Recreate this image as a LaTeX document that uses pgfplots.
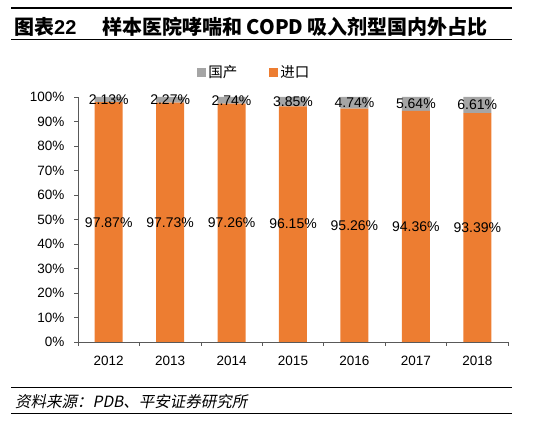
\documentclass[border=0pt]{standalone}
\usepackage{pgfplots}
\pgfplotsset{compat=1.18}
\usepackage{fontspec}
\setmainfont{Liberation Sans}
\newfontfamily\cjk{Noto Sans CJK SC}[AutoFakeSlant=0.2]
\definecolor{jk}{HTML}{ED7D31}
\definecolor{gc}{HTML}{A5A5A5}
\definecolor{axgray}{HTML}{595959}

% shared geometry of the plot area (in pt, picture is 554 x 425)
\pgfplotsset{
  refaxis/.style={
    at={(78pt,83pt)}, anchor=south west,
    scale only axis, width=430pt, height=245pt,
    xmin=-0.5, xmax=6.5, ymin=0, ymax=100,
  },
}

\begin{document}
\begin{tikzpicture}[x=1pt,y=1pt]
\useasboundingbox (0,0) rectangle (554,425);

% header
\draw[line width=1.4pt] (11,417) -- (512,417);
\node[anchor=west, inner sep=0pt, font=\bfseries\fontsize{20}{20}\selectfont] at (14,398) {{\cjk 图表}22};
\node[anchor=west, inner sep=0pt, font=\cjk\bfseries\fontsize{20}{20}\selectfont] at (102,398) {样本医院哮喘和 COPD 吸入剂型国内外占比};
\draw[line width=1pt] (11,385) -- (512,385);

\begin{axis}[
    refaxis,
    ybar stacked,
    bar width=28pt,
    axis x line=bottom,
    axis y line=left,
    axis line style={-, draw=axgray, line width=0.8pt},
    xtick={0,...,6},
    xticklabels={2012,2013,2014,2015,2016,2017,2018},
    major x tick style={draw=none},
    minor xtick={-0.5,0.5,...,6.5},
    minor x tick style={draw=axgray, line width=0.6pt},
    ytick={0,10,...,100},
    yticklabel={\pgfmathprintnumber{\tick}\%},
    /pgf/number format/assume math mode=true,
    y tick style={draw=axgray, line width=0.6pt},
    tick align=outside,
    major tick length=4pt,
    minor tick length=4pt,
    ticklabel style={font=\fontsize{13.5}{13.5}\selectfont, text=black},
    yticklabel style={xshift=-6pt},
    xticklabel style={yshift=-7pt},
    legend style={
      at={(0.41,1.1)}, anchor=center, draw=none, fill=none,
      legend columns=2,
      font=\cjk\fontsize{14.5}{14.5}\selectfont,
      /tikz/every even column/.append style={column sep=30pt},
    },
    legend image code/.code={\fill[#1] (0pt,-4.5pt) rectangle (9pt,4.5pt);},
    reverse legend,
  ]
  \addplot[fill=jk, draw=none] coordinates {
    (0,97.87) (1,97.73) (2,97.26) (3,96.15) (4,95.26) (5,94.36) (6,93.39)
  };
  \addlegendentry{进口}
  \addplot[fill=gc, draw=none] coordinates {
    (0,2.13) (1,2.27) (2,2.74) (3,3.85) (4,4.74) (5,5.64) (6,6.61)
  };
  \addlegendentry{国产}
\end{axis}

% value labels, centred in each segment
\begin{axis}[
    refaxis,
    hide axis,
    clip=false,
    nodes near coords,
    point meta=explicit symbolic,
    nodes near coords align=center,
    every node near coord/.append style={font=\fontsize{14}{14}\selectfont, text=black, anchor=center},
  ]
  \addplot[only marks, mark=none] table[meta=lab] {
    x y lab
    0 48.9 97.87\%
    1 48.9 97.73\%
    2 48.6 97.26\%
    3 48.1 96.15\%
    4 47.6 95.26\%
    5 47.2 94.36\%
    6 46.7 93.39\%
  };
  \addplot[only marks, mark=none] table[meta=lab] {
    x y lab
    0 98.9 2.13\%
    1 98.9 2.27\%
    2 98.6 2.74\%
    3 98.1 3.85\%
    4 97.6 4.74\%
    5 97.2 5.64\%
    6 96.7 6.61\%
  };
\end{axis}

% footer
\draw[line width=1pt] (11,37) -- (512,37);
\node[anchor=west, inner sep=0pt, font=\cjk\itshape\fontsize{15.5}{15.5}\selectfont] at (15,23) {资料来源：PDB、平安证券研究所};
\draw[line width=1pt] (11,11) -- (512,11);
\end{tikzpicture}
\end{document}
